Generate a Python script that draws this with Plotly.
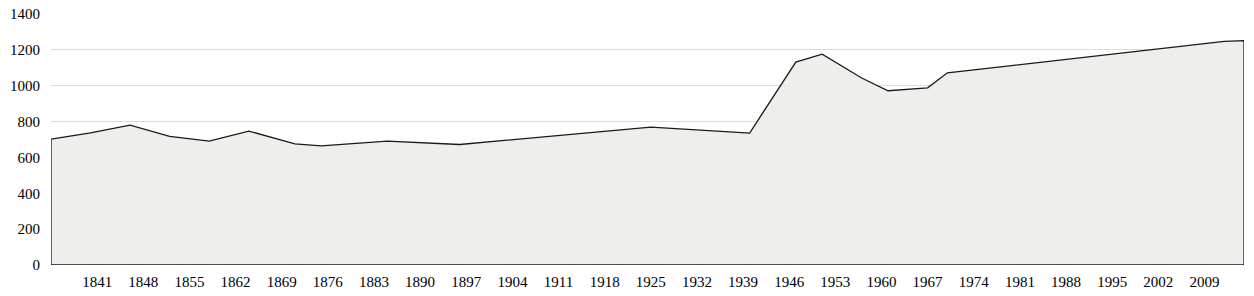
import plotly.graph_objects as go

years = [1834, 1840, 1846, 1852, 1858, 1864, 1871, 1875, 1885, 1896, 1925, 1940,
         1947, 1951, 1957, 1961, 1967, 1970, 2012, 2015]
population = [702, 737, 780, 717, 691, 747, 675, 665, 691, 672, 769, 736,
              1132, 1176, 1043, 972, 988, 1072, 1247, 1252]

tick_years = list(range(1841, 2010, 7))
y_ticks = list(range(0, 1401, 200))

# closed outline: data line then down to the baseline
xs = years + [years[-1], years[0], years[0]]
ys = population + [0, 0, population[0]]

fig = go.Figure()
fig.add_trace(go.Scatter(
    x=xs, y=ys, mode="lines", fill="toself",
    fillcolor="#eeeeea", line=dict(color="#1a1a1a", width=1.3),
    hoverinfo="skip", showlegend=False,
))

font = dict(family="Liberation Serif, DejaVu Serif, serif", size=15, color="#000")
fig.update_layout(
    width=1254, height=296,
    margin=dict(l=51, r=10, t=14, b=31),
    paper_bgcolor="white", plot_bgcolor="white",
    font=font,
    xaxis=dict(range=[1834, 2015], tickvals=tick_years, ticktext=[str(t) for t in tick_years],
               showgrid=False, zeroline=False, showline=False, ticks="",
               ticklabelstandoff=6, fixedrange=True, automargin=False),
    yaxis=dict(range=[0, 1400], tickvals=y_ticks, showgrid=True, gridcolor="#dcdcdc",
               gridwidth=1, zeroline=False, showline=False, ticks="",
               ticklabelstandoff=10, fixedrange=True, automargin=False),
)

fig.write_html("out.html")
